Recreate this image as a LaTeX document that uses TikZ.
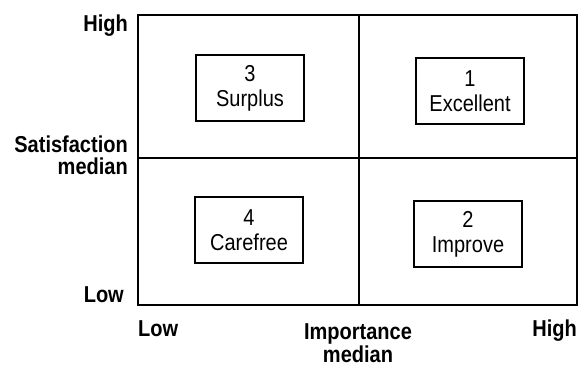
\documentclass[tikz,border=0pt]{standalone}
\usepackage{fontspec}
\setmainfont[FakeStretch=0.87]{Liberation Sans}
\begin{document}
\begin{tikzpicture}[x=1pt,y=1pt,
  quad/.style={draw, line width=1.6pt, minimum width=108pt, minimum height=66pt, inner sep=0pt, align=center, font=\fontsize{23}{25}\selectfont},
  axlabel/.style={font=\bfseries\fontsize{23}{22}\selectfont, inner sep=0pt},
  grid/.style={line width=1.6pt}]
\useasboundingbox (0,0) rectangle (579,367);
\coordinate (tl) at (138,352);
\coordinate (tr) at (577,352);
\coordinate (bl) at (138,62);
\coordinate (br) at (577,62);
\coordinate (mt) at (359,352);
\coordinate (mb) at (359,62);
\coordinate (ml) at (138,209);
\coordinate (mr) at (577,209);
\draw[grid] (tl) -- (tr) -- (br) -- (bl) -- cycle;
\draw[grid] (mt) -- (mb);
\draw[grid] (ml) -- (mr);
\node[quad] (q3) at (250,279) {3\\Surplus};
\node[quad] (q1) at (470,276) {1\\Excellent};
\node[quad] (q4) at (249,137) {4\\Carefree};
\node[quad] (q2) at (468,133) {2\\Improve};
\node[axlabel, anchor=base east] (yhigh) at (128,335) {High};
\node[axlabel, anchor=base east] (ysat) at (128,214) {Satisfaction};
\node[axlabel, anchor=base east] (ymed) at (128,192) {median};
\node[axlabel, anchor=base east] (ylow) at (124,64) {Low};
\node[axlabel, anchor=base west] (xlow) at (138,30) {Low};
\node[axlabel, anchor=base] (ximp) at (358,27) {Importance};
\node[axlabel, anchor=base] (xmed) at (358,4) {median};
\node[axlabel, anchor=base east] (xhigh) at (577,30) {High};
\end{tikzpicture}
\end{document}
